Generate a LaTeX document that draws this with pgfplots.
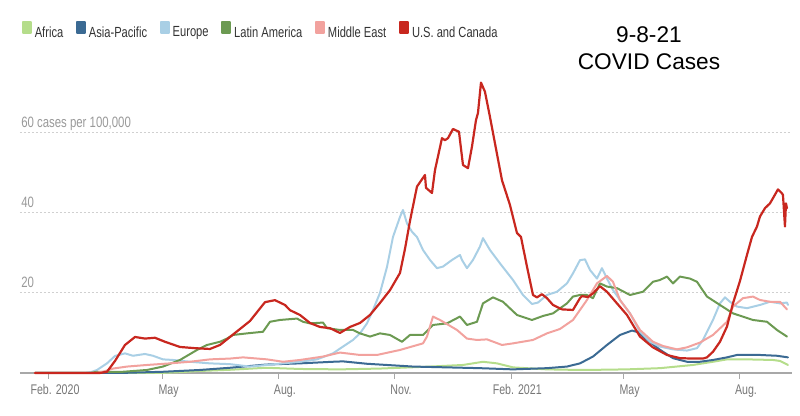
\documentclass[border=0pt]{standalone}
\usepackage{fontspec}
\setmainfont{Liberation Sans}[FakeStretch=0.76]
\newfontfamily\titlefont{Liberation Sans}
\usepackage{pgfplots}
\pgfplotsset{compat=1.18}
\definecolor{cafrica}{HTML}{B5DD8B}
\definecolor{casia}{HTML}{3B6A93}
\definecolor{ceurope}{HTML}{A9CFE5}
\definecolor{clatam}{HTML}{6C9A52}
\definecolor{cmideast}{HTML}{F2A29E}
\definecolor{cus}{HTML}{C8271F}
\definecolor{gridc}{HTML}{D0D0D0}
\definecolor{basec}{HTML}{A8A8A8}
\definecolor{ylabc}{HTML}{999999}
\definecolor{xlabc}{HTML}{777777}
\definecolor{legc}{HTML}{333333}
\begin{document}
\begin{tikzpicture}
\begin{axis}[
  width=579pt, height=225pt, scale only axis,
  xmin=20, xmax=792, ymin=0, ymax=75,
  clip=false,
  axis line style={draw=none},
  xtick={49,162.7,278.9,395,511.3,623.7,740},
  xticklabels={Feb. 2020,May,Aug.,Nov.,Feb. 2021,May,Aug.},
  xtick pos=lower, xtick align=outside,
  major tick length=4.5pt,
  xtick style={basec, line width=0.75pt},
  xticklabel style={anchor=north, inner sep=0pt, xshift=4.5pt, yshift=-3.9pt, font=\fontsize{10.5}{12}\selectfont, text=xlabc},
  ytick={20,40,60},
  yticklabels={20,40,{60 cases per 100,000}},
  ytick style={draw=none},
  yticklabel style={anchor=base west, inner sep=0pt, xshift=0.75pt, yshift=3.75pt, font=\fontsize{11.25}{13}\selectfont, text=ylabc},
  ymajorgrids,
  major grid style={gridc, line width=0.75pt, dash pattern=on 1.5pt off 1.5pt},
  legend columns=6,
  legend cell align=left,
  legend image code/.code={\fill (0pt,0pt) rectangle (6pt,8.25pt);},
  legend style={at={(axis description cs:0.0026,1.1433)}, anchor=west, draw=none, fill=none,
    inner sep=0pt, outer sep=0pt, font=\fontsize{11}{13}\selectfont, text=legc,
    nodes={inner sep=0pt},
    column sep=2.1pt,
    /tikz/every even column/.append style={column sep=9.6pt}},
  every axis plot/.append style={line width=1.5pt, line join=round, line cap=round},
]
\draw[basec, line width=0.9pt] (axis cs:20,0) -- (axis cs:792,0);
% Africa
\addplot[color=cafrica] coordinates {
(35,0) (160,0) (180,0.2) (200,0.5) (230,0.8) (266,1.3) (300,1.0) (340,0.9) (380,1.1)
(430,1.6) (463,2.0) (483,2.8) (497,2.4) (513,1.4) (547,0.9) (580,0.75) (600,0.8)
(627,0.9) (660,1.2) (693,2.0) (713,2.8) (727,3.4) (747,3.4) (773,3.25) (780,3.0) (788,2.0)};
\addlegendentry{Africa}
% Asia-Pacific
\addplot[color=casia] coordinates {
(35,0) (120,0) (163,0.3) (200,0.75) (230,1.3) (266,2.1) (300,2.4) (333,2.8) (343,2.9)
(367,2.3) (400,1.8) (413,1.6) (447,1.4) (480,1.2) (513,0.9) (547,1.2) (567,1.6) (580,2.4)
(593,4.1) (607,7) (620,9.5) (632,10.6) (638,10.2) (647,8.3) (660,5.8) (673,3.7) (687,2.8)
(700,2.8) (713,3.25) (727,3.9) (737,4.5) (760,4.5) (777,4.3) (788,3.9)};
\addlegendentry{Asia-Pacific}
% Europe
\addplot[color=ceurope] coordinates {
(35,0) (85,0) (92,0.3) (97,0.75) (107,2.4) (115,4.25) (125,4.9) (133,4.3) (145,4.75)
(153,4.3) (163,3.4) (173,3.25) (190,2.8) (210,2.4) (230,2.2) (250,1.6) (267,2.0) (283,2.4)
(300,2.8) (317,3.4) (333,4.9) (343,6.6) (353,8.25) (360,9.9) (367,12.4) (373,15.75)
(380,20) (387,26.5) (393,34) (400,39) (403,40.75) (407,37.4) (412,35.3) (417,34)
(423,30.75) (430,28.25) (437,26.2) (443,26.6) (452,28.25) (460,29.5) (462,28.25)
(467,26.2) (473,28.25) (480,31.6) (483,33.7) (490,30.75) (500,27.4) (513,23.25)
(523,19.5) (532,17.25) (538,17.6) (547,19.5) (557,20.3) (567,22.4) (573,24.9) (580,28.2)
(585,28.4) (590,25.75) (597,23.6) (602,26.2) (607,23.6) (613,20.75) (620,18.25)
(630,14.9) (640,10.3) (650,7.8) (660,6.6) (673,5.9) (687,5.6) (697,6.2) (703,8.25)
(713,13.25) (720,17.4) (725,18.9) (730,17.8) (737,16.6) (747,16.2) (760,17) (770,17.8)
(780,17.4) (787,17.6) (788,17)};
\addlegendentry{Europe}
% Latin America
\addplot[color=clatam] coordinates {
(35,0) (90,0) (97,0.3) (123,0.3) (147,0.75) (163,1.6) (180,3.25) (197,5.75) (207,7)
(220,7.8) (227,8.6) (233,9.5) (247,9.9) (263,10.3) (270,12.8) (280,13.25) (297,13.6)
(303,12.8) (310,12.4) (323,12.6) (327,11.2) (340,10.75) (353,10.75) (360,9.9) (370,9.1)
(380,9.9) (390,9.5) (402,7.8) (410,9.5) (423,9.5) (433,12) (447,12.4) (460,14.1) (467,12)
(477,12.8) (483,17.4) (493,18.9) (503,17.8) (517,14.5) (532,13.25) (543,14.25)
(553,14.9) (567,17.4) (573,19.1) (580,19.5) (587,19.5) (593,18.7) (600,22.4) (607,21.6)
(617,21.2) (630,19.5) (643,20.3) (653,22.8) (660,23.25) (667,24.1) (673,22.4) (680,24.1)
(690,23.6) (697,22.8) (707,19.1) (720,17) (733,14.9) (753,13.25) (767,12.8) (777,10.75)
(787,9.1)};
\addlegendentry{Latin America}
% Middle East
\addplot[color=cmideast] coordinates {
(35,0) (95,0) (103,0.3) (113,1.1) (127,1.6) (147,2.0) (170,2.4) (190,2.8) (210,3.4)
(230,3.6) (243,3.9) (267,3.4) (283,2.8) (300,3.25) (323,4.1) (340,5.1) (360,4.5)
(377,4.5) (400,5.75) (423,7.4) (427,9.1) (433,14.1) (440,13.25) (457,10.75) (467,8.6)
(477,8.25) (487,8.4) (502,7) (513,7.4) (533,8.25) (547,9.9) (560,11) (573,13.25)
(587,18.25) (597,22.4) (607,24.25) (613,22.8) (620,18.25) (630,14.9) (640,10.75)
(653,7.8) (663,6.75) (677,5.9) (687,6.4) (700,7.6) (713,9.5) (727,12.8) (733,16.6)
(743,18.7) (753,19.1) (760,18.25) (770,17.8) (780,17.8) (787,15.9)};
\addlegendentry{Middle East}
% U.S. and Canada
\addplot[color=cus, line width=1.65pt] coordinates {
(35,0) (100,0) (107,0.3) (115,3) (125,7) (135,9) (145,8.6) (155,8.8) (165,7.8) (180,6.5)
(195,6.2) (210,6) (220,7) (235,10) (250,13) (265,17.7) (275,18.2) (285,17) (290,15.7)
(300,14.5) (310,12.5) (320,11.5) (330,11.2) (340,10) (350,11.5) (360,12.5) (370,14.5)
(380,17.5) (390,20.7) (400,25) (405,31) (410,38) (417,46.6) (425,49.5) (426,46.3)
(432,45) (435,50.7) (442,58.7) (445,58.2) (448,58.7) (453,61) (459,60.3) (463,52)
(468,51.2) (472,56.6) (476,63.2) (478,65) (481,72.6) (485,70.3) (490,64) (495,57.4)
(502,48.2) (510,42) (517,35) (521,34) (527,26.6) (533,19.5) (537,18.9) (542,19.7)
(547,18.7) (553,17) (562,15.9) (573,15.75) (580,18.7) (582,19.2) (588,19) (593,19.9)
(600,21.7) (607,20.3) (617,17.4) (627,14.5) (640,9.1) (653,6.4) (667,4.5) (680,3.7)
(693,3.6) (703,3.6) (707,3.9) (713,5.3) (720,7.8) (727,11.6) (733,17.4) (740,23)
(747,29.5) (752,34) (757,36.6) (760,39.1) (765,41.2) (770,42.4) (773,43.7) (778,45.9)
(782,44.9) (783,44.5) (785,36.6) (786,42.4) (787,41.2)};
\addlegendentry{U.S. and Canada}
\node[anchor=base, inner sep=0pt, font=\titlefont\fontsize{17}{20}\selectfont] at (axis description cs:0.8148,1.1) {9-8-21};
\node[anchor=base, inner sep=0pt, font=\titlefont\fontsize{17}{20}\selectfont] at (axis description cs:0.8148,1.01) {COVID Cases};
\coordinate (bbll) at (axis description cs:-0.0259,-0.1433);
\coordinate (bbur) at (axis description cs:1.0104,1.2433);
\end{axis}
\pgfresetboundingbox
\useasboundingbox (bbll) rectangle (bbur);
\end{tikzpicture}
\end{document}
